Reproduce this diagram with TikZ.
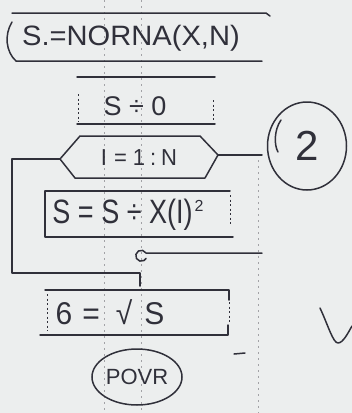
\documentclass[tikz,border=0pt]{standalone}
\usepackage{fontspec}
\setmainfont{Liberation Sans}
\usetikzlibrary{shapes.geometric}
\definecolor{paper}{RGB}{236,238,238}
\definecolor{ink}{RGB}{48,48,58}
\begin{document}
\begin{tikzpicture}[x=1pt,y=-1pt,
  rail/.style={draw=ink, line width=1.5pt, line cap=round, line join=round},
  side/.style={draw=ink, line width=0.9pt, dash pattern=on 2pt off 2.5pt},
  fold/.style={draw=ink!45, line width=0.8pt, dash pattern=on 1.5pt off 4.5pt},
  lbl/.style={text=ink, inner sep=0pt, anchor=center}]
\fill[paper] (0,0) rectangle (352,413);
\useasboundingbox (0,0) rectangle (352,413);
% fold marks
\draw[fold] (104,0) -- (104,413);
\draw[fold] (141,0) -- (141,413);
\draw[fold] (258,160) -- (258,413);
% title
\node[lbl, font=\fontsize{28}{28}\selectfont] (title) at (131,38) {\scalebox{1.04}[1]{S.=NORNA(X,N)}};
\draw[rail] (12,13) -- (266,13) -- (270,16);
\draw[rail] (12,22) .. controls (4,35) and (6,52) .. (16,61) -- (262,61);
% S=0
\node[lbl, font=\fontsize{27}{27}\selectfont] (init) at (135,106) {S ÷ 0};
\draw[rail] (77,77) -- (215,77);
\draw[rail] (77,124) -- (215,124);
\draw[side] (78,94) -- (78,122);
\draw[side] (213,100) -- (213,122);
% loop hexagon
\coordinate (hl) at (60,159);
\coordinate (hr) at (218,155);
\node[lbl, font=\fontsize{22}{22}\selectfont] (loop) at (139,158) {\scalebox{1}[1.05]{I\hspace{7pt}=\hspace{6pt}1\hspace{5pt}:\hspace{5pt}N}};
\draw[rail] (hl) -- (80,136) -- (200,136) -- (hr) -- (205,178) -- (75,178) -- cycle;
\coordinate (rend) at (262,155);
\draw[rail] (hr) -- (rend);
% body
\node[lbl, font=\fontsize{27}{27}\selectfont] (body) at (128,215) {\scalebox{1}[1.25]{S = S ÷ X(I)}\hspace{2pt}\raisebox{12pt}{\fontsize{16}{16}\selectfont 2}};
\draw[rail] (45,191) -- (230,191);
\draw[rail] (45,191) -- (45,237) -- (233,237);
\draw[side] (230,195) -- (230,226);
% loop end
\coordinate (cend) at (262,253);
\draw[rail] (cend) -- (146,253) arc[start angle=330, end angle=30, radius=5.5];
% back edge
\coordinate (lc) at (12,159);
\coordinate (lb) at (12,273);
\coordinate (lr) at (140,273);
\coordinate (ld) at (140,286);
\draw[rail] (hl) -- (lc) -- (lb) -- (lr) -- (ld);
% sigma
\node[lbl, font=\fontsize{30}{30}\selectfont] (sig) at (110,312) {\scalebox{1}[1.05]{6\hspace{10pt}=\hspace{16pt}√\hspace{12pt}S}};
\draw[rail] (45,290) -- (229,290) -- (229,300);
\draw[rail] (40,335) -- (228,335) -- (228,325);
\draw[side] (229,302) -- (229,323);
\draw[side] (47,294) -- (47,331);
% end oval
\node[lbl, draw=ink, line width=1.5pt, ellipse, minimum width=90pt, minimum height=56pt, font=\fontsize{22}{22}\selectfont] (stop) at (137,377) {POVR};
% circled 2
\node[lbl, draw=ink, line width=1.5pt, ellipse, minimum width=79pt, minimum height=88pt, font=\fontsize{42}{42}\selectfont] (num) at (307,146) {2};
\draw[rail] (281,120) .. controls (274,130) and (274,145) .. (278,152);
% check mark
\draw[rail] (320,308) .. controls (328,325) and (333,343) .. (338,343) .. controls (343,343) and (348,333) .. (352,326);
\draw[rail] (234,354) -- (245,353);
\end{tikzpicture}
\end{document}
